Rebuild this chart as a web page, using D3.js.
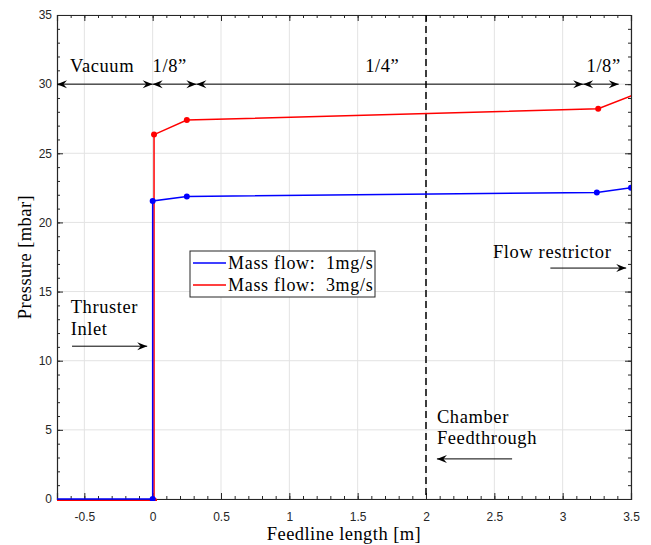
<!DOCTYPE html>
<html lang="en">
<head>
<meta charset="UTF-8">
<title>Feedline pressure</title>
<script src="https://d3js.org/d3.v7.min.js"></script>
<style>
    body { margin: 0; background: #fff; }
    .tick text { font-family: "Liberation Sans", Arial, sans-serif; font-size: 12px; fill: #262626; }
    .domain { stroke: #262626; }
    .tick line { stroke: #262626; }
</style>
</head>
<body>
<script>
    const width = 651;
    const height = 545;
    const margin = { top: 15, right: 20, bottom: 46, left: 57 };
    const serifFont = "'Liberation Serif', 'Times New Roman', serif";

    // series (feedline length [m], pressure [mbar])
    const flow1x = [-0.7, 0, 0, 0.25, 3.25, 3.5];
    const flow1y = [0, 0, 21.55, 21.88, 22.17, 22.5];
    const flow3x = [-0.7, 0.01, 0.01, 0.25, 3.26, 3.5, 3.6];
    const flow3y = [-0.1, -0.1, 26.35, 27.4, 28.22, 29.15, 29.5];
    const flow1markers = [[0, 0], [0, 21.55], [0.25, 21.88], [3.25, 22.17], [3.5, 22.5]];
    const flow3markers = [[0.01, -0.1], [0.01, 26.35], [0.25, 27.4], [3.26, 28.22]];

    const legendLabels = ["Mass flow:  1mg/s", "Mass flow:  3mg/s"];
    const seriesColors = ["#0000ff", "#ff0000"];

    // section arrows at 30 mbar
    const sections = [
        { x0: -0.7, x1: 0, label: "Vacuum", lx: -0.37 },
        { x0: 0, x1: 0.32, label: "1/8\u201D", lx: 0.125 },
        { x0: 0.32, x1: 3.15, label: "1/4\u201D", lx: 1.68 },
        { x0: 3.15, x1: 3.41, label: "1/8\u201D", lx: 3.3 }
    ];
    const sectionY = 30;
    const sectionLabelY = 30.85;

    const notes = [
        { lines: ["Thruster", "Inlet"], x: -0.6, y: 13.45, ax0: -0.59, ax1: -0.04, ay: 11.05 },
        { lines: ["Flow restrictor"], x: 2.49, y: 17.4, ax0: 2.91, ax1: 3.465, ay: 16.7 },
        { lines: ["Chamber", "Feedthrough"], x: 2.08, y: 5.5, ax0: 2.63, ax1: 2.08, ay: 2.9 }
    ];
    const feedthroughX = 2;

    const xTicks = [-0.5, 0, 0.5, 1, 1.5, 2, 2.5, 3, 3.5];
    const yTicks = [0, 5, 10, 15, 20, 25, 30, 35];

    const svg = d3.select("body").append("svg")
        .attr("width", width)
        .attr("height", height);

    const x = d3.scaleLinear().domain([-0.7, 3.5]).range([margin.left, width - margin.right]);
    const y = d3.scaleLinear().domain([0, 35]).range([height - margin.bottom, margin.top]);

    function serifText(sel, size = 18.5, spacing = 0.6) {
        return sel.append("text")
            .attr("font-family", serifFont)
            .style("font-family", serifFont)
            .attr("font-size", size)
            .attr("letter-spacing", spacing)
            .attr("fill", "#000");
    }

    const defs = svg.append("defs");
    defs.append("clipPath").attr("id", "plot")
        .append("rect")
        .attr("x", margin.left).attr("y", margin.top)
        .attr("width", x.range()[1] - margin.left)
        .attr("height", y.range()[0] - margin.top + 2);

    defs.append("marker")
        .attr("id", "head")
        .attr("viewBox", "-11 -5 12 10")
        .attr("refX", 0).attr("refY", 0)
        .attr("markerWidth", 12).attr("markerHeight", 10)
        .attr("markerUnits", "userSpaceOnUse")
        .attr("orient", "auto-start-reverse")
        .append("path")
        .attr("d", "M0,0 L-10,-4 L-6.5,0 L-10,4 Z")
        .attr("fill", "#000");

    // grid
    svg.append("g").selectAll("line").data(xTicks).join("line")
        .attr("x1", d => x(d)).attr("x2", d => x(d))
        .attr("y1", y(0)).attr("y2", y(35))
        .attr("stroke", "#e3e3e3");
    svg.append("g").selectAll("line").data(yTicks).join("line")
        .attr("x1", x(-0.7)).attr("x2", x(3.5))
        .attr("y1", d => y(d)).attr("y2", d => y(d))
        .attr("stroke", "#e3e3e3");

    // axes, ticks pointing inward on all four sides
    const xMinor = d3.range(-0.7, 3.51, 0.1).map(d => +d.toFixed(2));
    const yMinor = d3.range(0, 35.1, 1);

    function axisPair(g, makeAxis, minor, ticks, fmt) {
        g.append("g").call(makeAxis().tickValues(minor).tickSize(-3).tickFormat(""))
            .call(s => s.select(".domain").remove());
        g.append("g").call(makeAxis().tickValues(ticks).tickSize(-6).tickFormat(fmt));
    }

    const axBottom = svg.append("g").attr("transform", `translate(0,${y(0)})`);
    axisPair(axBottom, () => d3.axisBottom(x), xMinor, xTicks, d => d);
    axBottom.selectAll("text").attr("dy", "0.71em").attr("y", 13);

    const axTop = svg.append("g").attr("transform", `translate(0,${y(35)})`);
    axisPair(axTop, () => d3.axisTop(x), xMinor, xTicks, () => "");

    const axLeft = svg.append("g").attr("transform", `translate(${x(-0.7)},0)`);
    axisPair(axLeft, () => d3.axisLeft(y), yMinor, yTicks, d => d);
    axLeft.selectAll("text").attr("x", -5);

    const axRight = svg.append("g").attr("transform", `translate(${x(3.5)},0)`);
    axisPair(axRight, () => d3.axisRight(y), yMinor, yTicks, () => "");

    svg.selectAll(".domain").attr("stroke-width", 1.2);

    // dashed feedthrough line
    svg.append("line")
        .attr("x1", x(feedthroughX)).attr("x2", x(feedthroughX))
        .attr("y1", y(35)).attr("y2", y(0))
        .attr("stroke", "#000").attr("stroke-width", 1.5)
        .attr("stroke-dasharray", "7,4");

    // data lines
    const plot = svg.append("g").attr("clip-path", "url(#plot)");
    const line = d3.line().x(d => x(d[0])).y(d => y(d[1]));
    const series = [
        { xs: flow3x, ys: flow3y, pts: flow3markers, color: seriesColors[1] },
        { xs: flow1x, ys: flow1y, pts: flow1markers, color: seriesColors[0] }
    ];
    series.forEach(s => {
        plot.append("path")
            .attr("d", line(d3.zip(s.xs, s.ys)))
            .attr("fill", "none")
            .attr("stroke", s.color)
            .attr("stroke-width", 1.5);
        plot.selectAll(null).data(s.pts).join("circle")
            .attr("cx", d => x(d[0])).attr("cy", d => y(d[1]))
            .attr("r", 3)
            .attr("fill", s.color);
    });

    // section arrows
    sections.forEach(s => {
        svg.append("line")
            .attr("x1", x(s.x0)).attr("x2", x(s.x1))
            .attr("y1", y(sectionY)).attr("y2", y(sectionY))
            .attr("stroke", "#000").attr("stroke-width", 1)
            .attr("marker-start", "url(#head)")
            .attr("marker-end", "url(#head)");
        serifText(svg)
            .attr("x", x(s.lx)).attr("y", y(sectionLabelY))
            .attr("text-anchor", "middle")
            .text(s.label);
    });

    // notes
    notes.forEach(n => {
        n.lines.forEach((t, i) => {
            serifText(svg)
                .attr("x", x(n.x)).attr("y", y(n.y) + i * 21.5)
                .text(t);
        });
        svg.append("line")
            .attr("x1", x(n.ax0)).attr("x2", x(n.ax1))
            .attr("y1", y(n.ay)).attr("y2", y(n.ay))
            .attr("stroke", "#000").attr("stroke-width", 1)
            .attr("marker-end", "url(#head)");
    });

    // legend
    const lg = svg.append("g").attr("transform", "translate(190,251)");
    lg.append("rect")
        .attr("width", 185).attr("height", 46)
        .attr("fill", "#fff").attr("stroke", "#262626").attr("stroke-width", 1);
    legendLabels.forEach((t, i) => {
        lg.append("line")
            .attr("x1", 3).attr("x2", 36)
            .attr("y1", 12 + i * 22).attr("y2", 12 + i * 22)
            .attr("stroke", seriesColors[i]).attr("stroke-width", 1.5);
        serifText(lg, 18, 0.7)
            .attr("x", 38).attr("y", 17.5 + i * 22)
            .style("white-space", "pre")
            .text(t);
    });

    // axis titles
    serifText(svg, 18.5, 0.45)
        .attr("x", x(1.4)).attr("y", 540)
        .attr("text-anchor", "middle")
        .text("Feedline length [m]");
    serifText(svg, 18.5, 0.45)
        .attr("transform", `translate(31,${y(17.5)}) rotate(-90)`)
        .attr("text-anchor", "middle")
        .text("Pressure [mbar]");
</script>
</body>
</html>
